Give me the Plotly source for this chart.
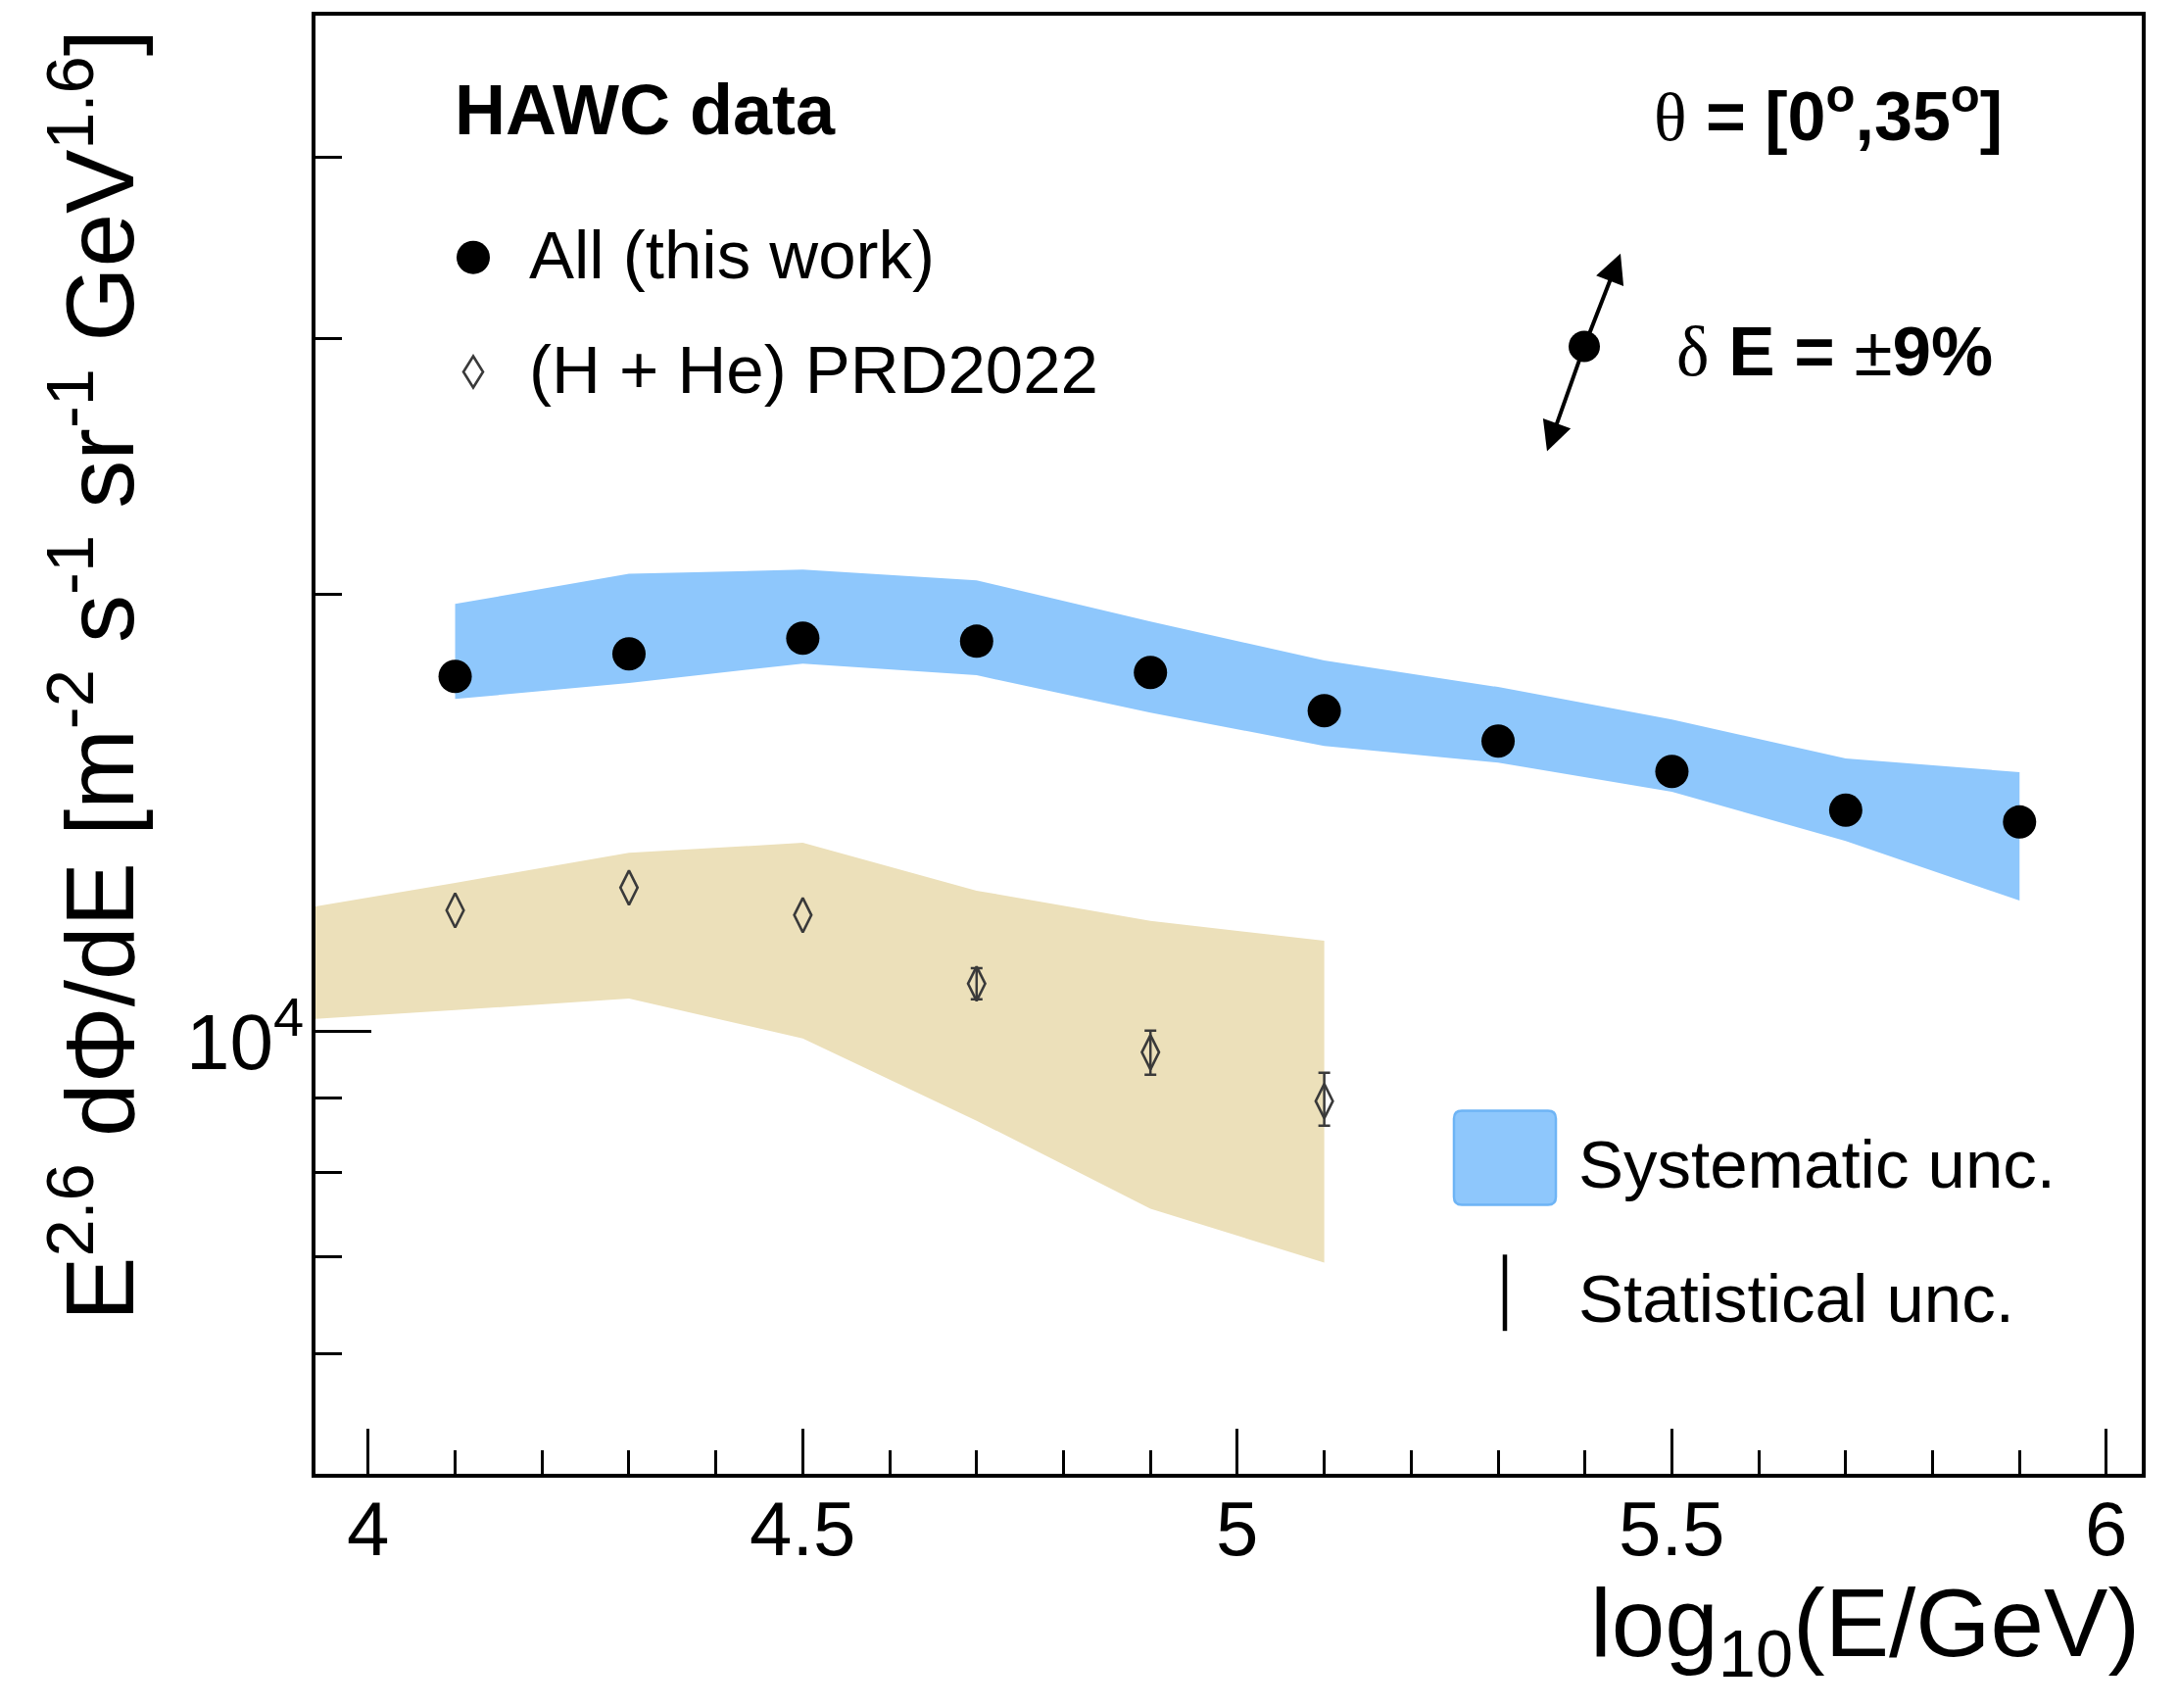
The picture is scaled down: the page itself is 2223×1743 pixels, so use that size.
import math
import plotly.graph_objects as go

# ---------------- data ----------------
x_all = [4.1, 4.3, 4.5, 4.7, 4.9, 5.1, 5.3, 5.5, 5.7, 5.9]
flux_all = [17565, 18200, 18660, 18570, 17675, 16634, 15853, 15107, 14206, 13943]
sys_all_hi = [19700, 20670, 20800, 20450, 19160, 18010, 17270, 16405, 15420, 15090]
sys_all_lo = [16945, 17380, 17925, 17595, 16585, 15730, 15320, 14630, 13530, 12310]

x_hhe = [4.1, 4.3, 4.5, 4.7, 4.9, 5.1]
flux_hhe = [12120, 12565, 12030, 10790, 9679, 8958]
# statistical errors are only visible (outside the marker) for the last three points
n_stat_visible_from = 3
stat_hhe_hi = [270, 336, 411]
stat_hhe_lo = [265, 339, 342]

x_hhe_band = [3.9, 4.1, 4.3, 4.5, 4.7, 4.9, 5.1]
sys_hhe_hi = [12085, 12660, 13280, 13490, 12505, 11920, 11550]
sys_hhe_lo = [10172, 10347, 10540, 9892, 8684, 7552, 6934]

x_major = [4, 4.5, 5, 5.5, 6]
x_major_text = ["4", "4.5", "5", "5.5", "6"]
x_minor = [4.1, 4.2, 4.3, 4.4, 4.6, 4.7, 4.8, 4.9, 5.1, 5.2, 5.3, 5.4, 5.6, 5.7, 5.8, 5.9]
y_major = [10000]
y_major_text = ["10<sup>4</sup>"]
y_minor = [6000, 7000, 8000, 9000, 20000, 30000, 40000]

# ---------------- styling / layout helpers ----------------
W, H = 2223, 1743
L, R, T, B = 322, 2186, 14, 1504
FONT = "Liberation Sans, Arial, sans-serif"
SERIF = "Liberation Serif, Times New Roman, serif"
BLUE = "rgb(142,199,252)"
TAN = "rgb(236,224,186)"
GREY = "#3a3a3a"


def px(x):
    return (x - L) / (R - L)


def py(y):
    return (B - y) / (B - T)


fig = go.Figure()

# H+He systematic band
fig.add_trace(go.Scatter(
    x=x_hhe_band + x_hhe_band[::-1],
    y=sys_hhe_hi + sys_hhe_lo[::-1],
    fill="toself", fillcolor=TAN, line=dict(width=0, color=TAN),
    mode="lines", hoverinfo="skip", showlegend=False))

# All-particle systematic band
fig.add_trace(go.Scatter(
    x=x_all + x_all[::-1],
    y=sys_all_hi + sys_all_lo[::-1],
    fill="toself", fillcolor=BLUE, line=dict(width=0, color=BLUE),
    mode="lines", hoverinfo="skip", showlegend=False))

# H+He statistical error bars (only where they stick out of the marker)
fig.add_trace(go.Scatter(
    x=x_hhe[n_stat_visible_from:], y=flux_hhe[n_stat_visible_from:], mode="markers",
    marker=dict(size=1, color="rgba(0,0,0,0)"),
    error_y=dict(type="data", array=stat_hhe_hi, arrayminus=stat_hhe_lo,
                 color=GREY, thickness=2.5, width=6),
    hoverinfo="skip", showlegend=False))

# H+He points
fig.add_trace(go.Scatter(
    x=x_hhe, y=flux_hhe, mode="markers",
    marker=dict(symbol="diamond-tall-open", size=25, color=GREY,
                line=dict(width=2.6, color=GREY)),
    showlegend=False))

# All-particle points
fig.add_trace(go.Scatter(
    x=x_all, y=flux_all, mode="markers",
    marker=dict(symbol="circle", size=34, color="black"),
    showlegend=False))

shapes = []
annotations = []

# tick labels placed on the axis scales
for v, t in zip(x_major, x_major_text):
    annotations.append(dict(text=t, xref="x", x=v, y=py(1560), xanchor="center",
                            yanchor="middle", font=dict(size=78)))
for v, t in zip(y_major, y_major_text):
    annotations.append(dict(text=t, yref="y", y=math.log10(v), x=px(312),
                            xanchor="right", yanchor="middle", yshift=-4, font=dict(size=80)))

# legend (top-left)
shapes.append(dict(type="circle", xref="paper", yref="paper",
                   xsizemode="pixel", ysizemode="pixel",
                   xanchor=px(483), yanchor=py(261),
                   x0=-17, x1=17, y0=-17, y1=17,
                   fillcolor="black", line=dict(width=0)))
shapes.append(dict(type="path", xref="paper", yref="paper",
                   xsizemode="pixel", ysizemode="pixel",
                   xanchor=px(483), yanchor=py(378),
                   path="M 0 16 L 10 0 L 0 -16 L -10 0 Z",
                   line=dict(width=2.6, color=GREY)))

annotations += [
    dict(text="<b>HAWC data</b>", x=px(462), y=py(110), xanchor="left", yanchor="middle",
         font=dict(size=72)),
    dict(text="All (this work)", x=px(538), y=py(259), xanchor="left", yanchor="middle",
         font=dict(size=69)),
    dict(text="(H + He) PRD2022", x=px(538), y=py(376), xanchor="left", yanchor="middle",
         font=dict(size=69)),
    dict(text=f"<span style='font-family:{SERIF}'>θ</span> <b>= [0<sup>o</sup>,35<sup>o</sup>]</b>",
         x=px(1686), y=py(112), xanchor="left", yanchor="middle", font=dict(size=70)),
    dict(text=f"<span style='font-family:{SERIF}'>δ</span> <b>E =</b> ±<b>9%</b>",
         x=px(1709), y=py(357), xanchor="left", yanchor="middle", font=dict(size=71)),
]

# energy-scale arrow
shapes.append(dict(type="circle", xref="paper", yref="paper",
                   xsizemode="pixel", ysizemode="pixel",
                   xanchor=px(1617), yanchor=py(352),
                   x0=-16, x1=16, y0=-16, y1=16,
                   fillcolor="black", line=dict(width=0)))
annotations += [
    dict(text="", x=px(1654), y=py(257), ax=1617 - 1654, ay=352 - 257,
         showarrow=True, arrowhead=2, arrowsize=1.5, arrowwidth=4, arrowcolor="black", standoff=0),
    dict(text="", x=px(1579), y=py(459), ax=1617 - 1579, ay=352 - 459,
         showarrow=True, arrowhead=2, arrowsize=1.5, arrowwidth=4, arrowcolor="black", standoff=0),
]

# legend (bottom-right)
shapes.append(dict(type="path", xref="paper", yref="paper",
                   xsizemode="pixel", ysizemode="pixel",
                   xanchor=px(1536), yanchor=py(1181),
                   path="M -44 -48 L 44 -48 Q 52 -48 52 -40 L 52 40 Q 52 48 44 48 L -44 48 "
                        "Q -52 48 -52 40 L -52 -40 Q -52 -48 -44 -48 Z",
                   fillcolor=BLUE, line=dict(width=2.5, color="rgb(110,180,245)")))
shapes.append(dict(type="line", xref="paper", yref="paper",
                   x0=px(1536), x1=px(1536), y0=py(1280), y1=py(1358),
                   line=dict(width=4.5, color="black")))
annotations += [
    dict(text="Systematic unc.", x=px(1609), y=py(1188), xanchor="left", yanchor="middle",
         font=dict(size=69)),
    dict(text="Statistical unc.", x=px(1609), y=py(1325), xanchor="left", yanchor="middle",
         font=dict(size=69)),
]

# axis titles
annotations += [
    dict(text="log<sub>10</sub>(E/GeV)", x=px(2186), y=py(1664), xanchor="right",
         yanchor="middle", font=dict(size=98)),
    dict(text="E<sup>2.6</sup> dΦ/dE [m<sup>-2</sup> s<sup>-1</sup> sr<sup>-1</sup> GeV<sup>1.6</sup>]",
         textangle=-90, x=px(95), y=py(26), xanchor="center", yanchor="top",
         font=dict(size=98)),
]

for a in annotations:
    a.setdefault("xref", "paper")
    a.setdefault("yref", "paper")
    a.setdefault("showarrow", False)
    a.setdefault("font", {})
    a["font"].setdefault("color", "black")
    a["font"].setdefault("family", FONT)

fig.update_layout(
    width=W, height=H, autosize=False,
    margin=dict(l=L, r=W - R, t=T, b=H - B, pad=0),
    paper_bgcolor="white", plot_bgcolor="white",
    font=dict(family=FONT, color="black"),
    showlegend=False,
    shapes=shapes, annotations=annotations,
    xaxis=dict(range=[3.9393, 6.0406], tickmode="array", tickvals=x_major,
               showticklabels=False,
               ticks="inside", ticklen=46, tickwidth=3, tickcolor="black",
               minor=dict(tickmode="array", tickvals=x_minor, ticks="inside", ticklen=24,
                          tickwidth=3, tickcolor="black", showgrid=False),
               showline=True, mirror=True, linewidth=3.5, linecolor="black",
               showgrid=False, zeroline=False),
    yaxis=dict(type="log", range=[3.6956, 4.6995], tickmode="array", tickvals=y_major,
               showticklabels=False,
               ticks="inside", ticklen=57, tickwidth=3, tickcolor="black",
               minor=dict(tickmode="array", tickvals=y_minor, ticks="inside", ticklen=27,
                          tickwidth=3, tickcolor="black", showgrid=False),
               showline=True, mirror=True, linewidth=3.5, linecolor="black",
               showgrid=False, zeroline=False),
)

fig.write_html("out.html")
